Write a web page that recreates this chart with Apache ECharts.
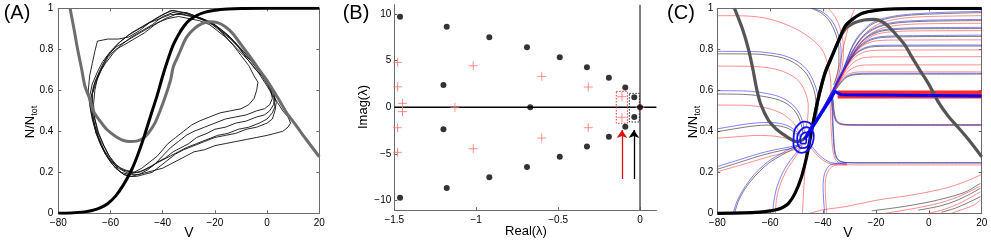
<!DOCTYPE html>
<html><head><meta charset="utf-8">
<script src="https://cdn.jsdelivr.net/npm/echarts@6/dist/echarts.min.js"></script>
<style>html,body{margin:0;padding:0;background:#fff}#c{width:991px;height:245px}</style>
</head><body><div id="c"></div><script>
// ---------------- Panel A data ----------------
const aTicksX = [-80, -60, -40, -20, 0, 20];
const aTicksY = [0, 0.2, 0.4, 0.6, 0.8, 1];
const aSigmoid = [[-80,0],[-75,0.002],[-70,0.007],[-67,0.014],[-64,0.026],[-61,0.048],[-58,0.085],[-55,0.14],[-52,0.21],[-50,0.27],[-48,0.34],[-46,0.42],[-44,0.5],[-42,0.58],[-40,0.67],[-38,0.75],[-36,0.82],[-34,0.87],[-32,0.91],[-30,0.94],[-27,0.965],[-24,0.98],[-20,0.99],[-15,0.996],[-10,0.999],[0,1],[20,1]];
const aNullcline = [[-75.5,1],[-74,0.9],[-72.6,0.8],[-71,0.7],[-69.8,0.62],[-68,0.56],[-66.6,0.5],[-64,0.45],[-61.5,0.41],[-58,0.375],[-55,0.355],[-52.5,0.35],[-50,0.352],[-47.4,0.366],[-45,0.4],[-43,0.44],[-41,0.5],[-39,0.57],[-37,0.65],[-35.9,0.716],[-34,0.77],[-32,0.83],[-30.8,0.86],[-28,0.9],[-25,0.925],[-22,0.935],[-19,0.93],[-16,0.91],[-13,0.875],[-10.4,0.83],[-6,0.755],[-3,0.7],[0,0.648],[4,0.566],[7.5,0.49],[11,0.43],[15,0.36],[20,0.276]];
const aLoop1 = [[-56,0.2],[-53,0.19],[-50,0.2],[-47,0.21],[-44,0.23],[-42,0.25],[-39,0.27],[-36,0.3],[-33,0.32],[-30,0.34],[-27,0.37],[-23,0.39],[-20,0.41],[-16,0.42],[-12,0.44],[-8,0.45],[-4,0.47],[-1,0.48],[1,0.5],[2.5,0.53],[3,0.57],[2,0.61],[0,0.65],[-2,0.68],[-4,0.72],[-7,0.76],[-10,0.8],[-13,0.84],[-16,0.88],[-19,0.91],[-22,0.93],[-25,0.95],[-29,0.96],[-33,0.97],[-37,0.97],[-41,0.95],[-45,0.93],[-49,0.9],[-53,0.87],[-57,0.83],[-60,0.79],[-63,0.74],[-65,0.69],[-67,0.63],[-68,0.57],[-67.5,0.5],[-66.5,0.44],[-65,0.38],[-63.5,0.33],[-62,0.29],[-60,0.25],[-58,0.22],[-56,0.2]];
const aLoop2 = [[-55,0.19],[-52,0.18],[-49,0.19],[-46,0.2],[-43,0.21],[-40,0.22],[-37,0.24],[-34,0.26],[-31,0.28],[-28,0.3],[-24,0.31],[-20,0.33],[-16,0.34],[-12,0.35],[-8,0.36],[-4,0.37],[0,0.38],[3,0.39],[6,0.4],[8,0.42],[9,0.44],[8,0.47],[6,0.5],[4,0.54],[2,0.58],[0,0.63],[-2,0.67],[-5,0.71],[-8,0.76],[-11,0.81],[-14,0.85],[-17,0.88],[-20,0.92],[-24,0.94],[-28,0.96],[-32,0.98],[-36,0.99],[-40,0.97],[-44,0.94],[-48,0.91],[-52,0.88],[-56,0.84],[-59,0.8],[-62,0.75],[-64,0.7],[-66,0.64],[-67,0.58],[-67,0.52],[-66,0.46],[-65,0.4],[-63,0.34],[-61,0.29],[-59,0.25],[-57,0.21],[-55,0.19]];
const aLoop3 = [[-54,0.21],[-51,0.2],[-48,0.22],[-45,0.25],[-42,0.28],[-40,0.31],[-38,0.34],[-35,0.37],[-32,0.4],[-29,0.43],[-26,0.45],[-22,0.47],[-18,0.49],[-14,0.5],[-10,0.51],[-7,0.53],[-5,0.56],[-4,0.6],[-3.5,0.64],[-5,0.67],[-7,0.72],[-10,0.77],[-13,0.82],[-16,0.86],[-19,0.89],[-22,0.92],[-26,0.94],[-30,0.95],[-34,0.96],[-38,0.95],[-42,0.93],[-46,0.9],[-50,0.87],[-54,0.84],[-58,0.81],[-61,0.77],[-63,0.72],[-65,0.66],[-66,0.6],[-66.5,0.53],[-66,0.46],[-64.5,0.39],[-62.5,0.33],[-60.5,0.28],[-58,0.24],[-56,0.22],[-54,0.21]];
const aLoop4 = [[-53,0.18],[-50,0.18],[-47,0.19],[-44,0.2],[-41,0.23],[-38,0.26],[-35,0.29],[-32,0.31],[-28,0.33],[-24,0.35],[-20,0.37],[-16,0.38],[-12,0.39],[-8,0.41],[-4,0.42],[0,0.44],[2,0.46],[3,0.5],[3.5,0.54],[2.5,0.58],[1,0.62],[-1,0.66],[-3,0.69],[-6,0.74],[-9,0.78],[-12,0.83],[-15,0.87],[-18,0.9],[-21,0.93],[-25,0.95],[-29,0.97],[-33,0.98],[-37,0.99],[-41,0.96],[-45,0.93],[-49,0.89],[-53,0.86],[-57,0.85],[-61,0.85],[-65,0.84],[-66,0.79],[-67,0.73],[-68,0.67],[-68.5,0.6],[-68,0.53],[-67,0.46],[-65.5,0.39],[-63.5,0.33],[-61,0.27],[-58,0.22],[-55,0.19],[-53,0.18]];
const aLoop5 = [[-55,0.21],[-52,0.2],[-49,0.2],[-46,0.22],[-43,0.24],[-40,0.26],[-37,0.28],[-34,0.3],[-31,0.32],[-27,0.34],[-23,0.36],[-19,0.38],[-15,0.39],[-11,0.41],[-7,0.42],[-3,0.44],[0,0.46],[2,0.49],[3,0.52],[2.5,0.56],[1,0.6],[-1,0.64],[-3,0.68],[-6,0.73],[-9,0.77],[-12,0.81],[-15,0.85],[-18,0.89],[-21,0.92],[-24,0.94],[-28,0.96],[-32,0.97],[-36,0.98],[-40,0.96],[-44,0.92],[-48,0.89],[-52,0.86],[-56,0.82],[-59,0.78],[-62,0.73],[-64.5,0.68],[-66.5,0.62],[-67.5,0.56],[-67,0.49],[-66,0.43],[-64.5,0.37],[-62.5,0.31],[-60,0.26],[-57.5,0.23],[-55,0.21]];
const aLoop6 = [[-52,0.19],[-49,0.19],[-46,0.21],[-43,0.24],[-40,0.28],[-37,0.32],[-34,0.35],[-31,0.38],[-28,0.4],[-24,0.42],[-20,0.44],[-16,0.46],[-12,0.47],[-8,0.48],[-4,0.5],[-1,0.51],[1,0.53],[2,0.56],[1.5,0.6],[0,0.64],[-2,0.68],[-4.5,0.72],[-7.5,0.77],[-10.5,0.81],[-13.5,0.85],[-16.5,0.88],[-19.5,0.91],[-23,0.94],[-27,0.96],[-31,0.98],[-35,0.97],[-39,0.95],[-43,0.92],[-47,0.88],[-51,0.85],[-55,0.82],[-58,0.8],[-61,0.76],[-63.5,0.7],[-65.5,0.64],[-67,0.58],[-67,0.51],[-66.5,0.45],[-65.5,0.39],[-64,0.34],[-62,0.29],[-59.5,0.25],[-57,0.22],[-54,0.2],[-52,0.19]];

// ---------------- Panel B data ----------------
const bTicksX = [-1.5, -1, -0.5, 0];
const bTicksY = [-10, -5, 0, 5, 10];
const bDots = [[-1.465,9.71],[-1.18,8.64],[-0.92,7.5],[-0.69,6.43],[-0.49,5.36],[-0.324,4.29],[-0.19,3.18],[-0.09,2.14],[-0.035,1.07],[0,0],[-1.2,2.39],[-0.67,0],[-1.2,-2.36],[-1.465,-9.68],[-1.18,-8.64],[-0.92,-7.5],[-0.69,-6.4],[-0.49,-5.3],[-0.324,-4.2],[-0.19,-3.14],[-0.09,-2.07],[-0.035,-1.04]];
const bPlus = [[-1.48,4.82],[-1.48,2.2],[-1.45,0.43],[-1.45,-0.46],[-1.48,-2.18],[-1.48,-4.82],[-1.13,0],[-1.018,4.46],[-1.018,-4.43],[-0.6,3.32],[-0.6,-3.29],[-0.316,2.18],[-0.316,-2.18],[-0.11,1.14],[-0.11,-1.07],[0,0]];
const bZeroH = [[-1.5,0],[0.1,0]];
const bZeroV = [[0,-11],[0,11]];
const bRedRect = [[-0.145,1.71],[-0.077,1.71],[-0.077,-1.71],[-0.145,-1.71],[-0.145,1.71]];
const bBlackRect = [[-0.065,1.5],[-0.004,1.5],[-0.004,-1.57],[-0.065,-1.57],[-0.065,1.5]];
const bRedArrow = [[-0.11,-7.68],[-0.11,-2.43]];
const bBlackArrow = [[-0.037,-7.68],[-0.037,-2.43]];

// ---------------- Panel C data ----------------
const cTicksX = [-80, -60, -40, -20, 0, 20];
const cTicksY = [0, 0.2, 0.4, 0.6, 0.8, 1];
const cSigmoid = [[-80,0],[-70,0.002],[-64,0.006],[-60,0.012],[-57,0.02],[-55.6,0.026],[-53,0.05],[-50.6,0.097],[-48.1,0.18],[-46.2,0.276],[-44.5,0.39],[-43.3,0.47],[-42,0.55],[-39.3,0.683],[-36.5,0.77],[-34.2,0.84],[-31.5,0.915],[-28.5,0.95],[-25.4,0.975],[-20,0.99],[-12.8,0.997],[0,1],[20,1]];
const cNullcline = [[-73.5,1],[-70.5,0.9],[-68.2,0.8],[-66.5,0.7],[-65,0.6],[-63.5,0.53],[-60.7,0.455],[-57.6,0.41],[-55.6,0.39],[-52,0.36],[-50,0.35],[-47.5,0.36],[-45.5,0.39],[-44,0.43],[-42,0.55],[-39.3,0.683],[-36.5,0.77],[-34.2,0.84],[-31.5,0.9],[-28,0.93],[-24.5,0.943],[-21,0.946],[-19,0.943],[-16,0.92],[-12.8,0.878],[-9,0.82],[-6.5,0.764],[-3,0.69],[-0.2,0.634],[3.5,0.545],[7,0.48],[11,0.42],[15,0.36],[20,0.276]];
const cMainBlue = [[-47,0.36],[-45.5,0.39],[-43,0.44],[-41,0.48],[-39,0.52],[-37,0.56],[-35.5,0.595],[-35,0.6],[-34.2,0.585],[-33,0.578],[-25,0.577],[-19,0.577],[-18.8,0.572],[20,0.572]];
const cRedBand = [[-34.5,0.58],[20,0.58]];
const cSpiral = [[-44,0.42],[-45,0.44],[-47,0.447],[-49.5,0.43],[-51,0.39],[-51.2,0.34],[-50,0.305],[-48,0.295],[-45.5,0.31],[-44,0.34],[-43.5,0.38],[-44.5,0.41],[-46.5,0.42],[-48.5,0.405],[-49.8,0.37],[-49.5,0.335],[-48,0.318],[-46,0.325],[-45,0.35],[-45.2,0.38],[-46.5,0.395],[-48,0.385],[-48.7,0.36],[-48,0.34],[-46.8,0.34],[-46.3,0.36],[-47,0.37]];
const cBlueLines = [
 [[20,0.985],[5,0.98],[-6.5,0.972],[-13,0.962],[-18,0.948],[-22,0.925],[-25,0.89],[-27.5,0.85],[-29.5,0.8],[-31,0.75],[-32.5,0.7],[-34,0.655],[-35.8,0.61],[-38,0.56],[-41,0.495],[-44,0.435],[-46.5,0.385]],
 [[20,0.946],[0,0.942],[-10,0.936],[-16,0.925],[-20.5,0.905],[-24,0.875],[-26.5,0.84],[-28.8,0.795],[-30.6,0.75],[-32.2,0.7],[-33.8,0.655],[-35.6,0.61],[-37.8,0.56],[-40.8,0.495],[-43.8,0.435],[-46.5,0.385]],
 [[20,0.907],[-5,0.905],[-14,0.9],[-19,0.89],[-23,0.865],[-26,0.83],[-28.5,0.785],[-30.5,0.74],[-32.2,0.695],[-34,0.65],[-35.8,0.605],[-38,0.555],[-41,0.49],[-44,0.43],[-46.5,0.385]],
 [[20,0.869],[-10,0.866],[-18,0.862],[-22,0.85],[-25.2,0.825],[-27.8,0.79],[-29.8,0.75],[-31.6,0.71],[-33.4,0.67],[-35.2,0.625],[-37.2,0.575],[-40,0.51],[-43,0.45],[-46.3,0.39]],
 [[20,0.821],[-15,0.82],[-22,0.816],[-25.5,0.8],[-28,0.775],[-30,0.745],[-31.8,0.71],[-33.5,0.675],[-35.3,0.63],[-37.3,0.58],[-40,0.515],[-43,0.45],[-46.3,0.39]],
 [[20,0.683],[-20,0.683],[-26,0.682],[-29,0.678],[-31,0.668],[-32.6,0.65],[-34.2,0.625],[-36,0.59],[-38.2,0.545],[-41,0.485],[-44,0.425],[-46.5,0.385]],
 [[20,0.431],[-25,0.431],[-31,0.432],[-33.5,0.436],[-35,0.45],[-35.8,0.48],[-36.2,0.52],[-36.5,0.56],[-37,0.58]],
 [[20,0.245],[-25,0.245],[-31,0.246],[-33.5,0.252],[-35,0.27],[-35.8,0.31],[-36.2,0.38],[-36.5,0.46],[-36.7,0.53],[-37,0.58]],
 [[-31,0.244],[-34,0.244],[-36.7,0.246],[-39,0.26],[-41.5,0.285],[-43.5,0.315],[-45.5,0.345]],
 [[-39.4,0],[-39.8,0.07],[-40,0.13],[-39.4,0.195],[-37.6,0.233],[-35,0.243],[-31,0.245]],
 [[-43.5,1],[-40,0.98],[-37,0.945],[-35,0.9],[-33.8,0.85],[-33.2,0.8],[-33.2,0.74],[-34,0.68],[-35.5,0.625]],
 [[-80,0.79],[-66,0.789],[-60,0.782],[-55,0.77],[-51,0.75],[-48,0.725],[-45.5,0.69],[-43.5,0.64],[-42.2,0.59],[-41.8,0.54],[-42.3,0.48],[-43.5,0.43],[-45.5,0.39]],
 [[-80,0.598],[-70,0.597],[-64,0.59],[-58,0.575],[-54,0.553],[-51,0.523],[-49,0.488],[-47.6,0.44],[-47,0.39]],
 [[-80,0.412],[-74,0.425],[-68,0.437],[-62,0.443],[-57,0.44],[-53,0.425],[-50.2,0.4],[-48.2,0.378]],
 [[-80,0.228],[-72,0.26],[-65,0.288],[-59,0.308],[-54,0.32],[-50.5,0.33],[-48,0.34]],
 [[-74,0],[-72.5,0.06],[-70,0.12],[-66,0.19],[-61,0.25],[-56,0.29],[-52,0.318],[-49,0.337]],
 [[-59,0],[-58.6,0.06],[-57.4,0.13],[-55.2,0.2],[-52.3,0.26],[-49.8,0.3],[-48,0.33]]
];
const cBlackLines = [
 [[20,0.979],[5,0.974],[-6.5,0.967],[-13,0.957],[-18,0.942],[-22,0.918],[-25,0.883],[-27.5,0.843],[-29.5,0.795],[-31,0.745],[-32.5,0.697],[-34,0.652],[-35.8,0.607],[-38,0.557],[-41,0.49],[-44,0.43],[-46.5,0.38]],
 [[20,0.94],[0,0.937],[-10,0.931],[-16,0.92],[-20.5,0.9],[-24,0.87],[-26.5,0.835],[-28.8,0.79],[-30.6,0.745],[-32.2,0.696],[-33.8,0.652],[-35.6,0.607],[-37.8,0.557],[-40.8,0.49],[-43.8,0.43],[-46.5,0.38]],
 [[20,0.901],[-5,0.9],[-14,0.895],[-19,0.885],[-23,0.86],[-26,0.825],[-28.5,0.78],[-30.5,0.736],[-32.2,0.692],[-34,0.647],[-35.8,0.602],[-38,0.552],[-41,0.487],[-44,0.427],[-46.5,0.38]],
 [[20,0.863],[-10,0.861],[-18,0.857],[-22,0.845],[-25.2,0.82],[-27.8,0.786],[-29.8,0.746],[-31.6,0.706],[-33.4,0.666],[-35.2,0.622],[-37.2,0.572],[-40,0.507],[-43,0.447],[-46.3,0.386]],
 [[20,0.816],[-15,0.815],[-22,0.811],[-25.5,0.796],[-28,0.771],[-30,0.741],[-31.8,0.706],[-33.5,0.671],[-35.3,0.627],[-37.3,0.577],[-40,0.512],[-43,0.447],[-46.3,0.386]],
 [[20,0.679],[-20,0.679],[-26,0.678],[-29,0.674],[-31,0.664],[-32.6,0.646],[-34.2,0.621],[-36,0.587],[-38.2,0.542],[-41,0.482],[-44,0.422],[-46.5,0.382]],
 [[20,0.432],[-25,0.432],[-31,0.433],[-33.3,0.438],[-34.8,0.452],[-35.6,0.482],[-36,0.522],[-36.3,0.562],[-36.8,0.582]],
 [[20,0.247],[-25,0.247],[-31,0.248],[-33.3,0.254],[-34.8,0.272],[-35.6,0.312],[-36,0.382],[-36.3,0.462],[-36.5,0.532],[-36.8,0.582]],
 [[-44.5,1],[-41,0.98],[-38,0.945],[-36,0.9],[-34.6,0.85],[-34,0.8],[-34,0.74],[-34.6,0.68],[-36,0.625]],
 [[-80,0.778],[-66,0.777],[-60,0.77],[-55,0.757],[-51.3,0.737],[-48.4,0.71],[-46,0.675],[-44.2,0.63],[-43,0.58],[-42.7,0.53],[-43.2,0.475],[-44.4,0.425],[-46,0.39]],
 [[-80,0.582],[-70,0.58],[-64,0.573],[-58,0.558],[-54,0.537],[-51.2,0.507],[-49.4,0.472],[-48.2,0.43],[-47.6,0.39]],
 [[-80,0.398],[-74,0.411],[-68,0.423],[-62,0.43],[-57,0.427],[-53,0.413],[-50.3,0.39],[-48.3,0.372]],
 [[-80,0.215],[-72,0.247],[-65,0.276],[-59,0.297],[-54,0.311],[-50.5,0.322],[-48,0.333]],
 [[-73.5,0],[-72,0.06],[-69.5,0.12],[-65.5,0.185],[-60.5,0.245],[-55.5,0.285],[-51.5,0.313],[-48.8,0.333]],
 [[-21.6,0.012],[-10,0.032],[0,0.055],[8,0.08],[14,0.105],[19.5,0.146]],
 [[-4,0.015],[4,0.035],[10,0.06],[15,0.09],[19.5,0.122]],
 [[4.8,0.005],[10,0.025],[14.5,0.05],[19.5,0.081]]
];
const cRedLines = [
 [[20,0.964],[0,0.96],[-9,0.953],[-15,0.94],[-19.5,0.92],[-23,0.89],[-25.8,0.85],[-28,0.805],[-30,0.755],[-31.6,0.705],[-33.2,0.66],[-35,0.615],[-37.2,0.565],[-40.2,0.5],[-43.2,0.44],[-46,0.39]],
 [[20,0.927],[-3,0.924],[-12,0.917],[-17.5,0.903],[-21.5,0.88],[-24.7,0.845],[-27.3,0.8],[-29.5,0.755],[-31.3,0.71],[-33,0.665],[-34.8,0.62],[-37,0.57],[-40,0.505],[-43,0.445],[-46,0.39]],
 [[20,0.891],[-8,0.889],[-16,0.883],[-20.5,0.87],[-24,0.842],[-26.8,0.805],[-29,0.765],[-31,0.72],[-32.8,0.68],[-34.6,0.635],[-36.7,0.585],[-39.5,0.52],[-42.6,0.455],[-45.8,0.395]],
 [[20,0.846],[-14,0.845],[-20.5,0.84],[-24,0.825],[-26.8,0.795],[-29,0.76],[-31,0.72],[-32.8,0.68],[-34.6,0.637],[-36.6,0.59],[-39.3,0.525],[-42.4,0.46],[-45.6,0.4]],
 [[20,0.797],[-18,0.796],[-23.5,0.79],[-26.8,0.772],[-29.2,0.745],[-31.2,0.71],[-33,0.675],[-34.8,0.635],[-36.8,0.587],[-39.5,0.523],[-42.5,0.458],[-45.6,0.4]],
 [[20,0.764],[-20,0.763],[-25,0.758],[-28,0.74],[-30.3,0.713],[-32.2,0.68],[-34,0.645],[-35.8,0.605],[-38,0.555],[-41,0.49],[-44,0.43],[-46.3,0.39]],
 [[20,0.724],[-22,0.724],[-26.5,0.72],[-29.3,0.705],[-31.3,0.683],[-33.1,0.655],[-34.9,0.62],[-36.9,0.58],[-39.5,0.525],[-42.5,0.46],[-45.6,0.4]],
 [[20,0.69],[-24,0.69],[-28,0.688],[-30.5,0.678],[-32.3,0.66],[-34,0.635],[-35.8,0.6],[-38,0.555],[-41,0.49],[-44,0.43],[-46.3,0.39]],
 [[20,0.428],[-25,0.428],[-31,0.429],[-33.7,0.434],[-35.2,0.45],[-36,0.48],[-36.5,0.52],[-36.8,0.56]],
 [[20,0.236],[-25,0.236],[-31,0.237],[-33.8,0.245],[-35.4,0.265],[-36.3,0.31],[-36.8,0.38],[-37.1,0.46],[-37.3,0.53],[-37.5,0.57]],
 [[-31,0.236],[-34,0.237],[-37,0.24],[-39.5,0.255],[-42,0.28],[-44,0.31],[-46,0.34]],
 [[-38.6,0],[-39,0.07],[-39.2,0.13],[-38.6,0.19],[-36.8,0.226],[-34,0.236],[-31,0.236]],
 [[-38,1],[-35.5,0.96],[-33.5,0.9],[-32.5,0.84],[-32.3,0.78],[-33,0.7],[-35,0.635]],
 [[-28,1],[-29.5,0.95],[-31,0.88],[-32.5,0.8],[-33.8,0.72],[-35.5,0.64]],
 [[-80,0.964],[-70,0.963],[-63,0.955],[-57,0.935],[-52,0.91],[-47,0.875],[-43,0.835],[-40,0.79],[-38.3,0.73],[-37.3,0.67],[-37,0.61],[-37.8,0.55],[-40.5,0.49],[-43.5,0.43],[-46,0.385]],
 [[-80,0.718],[-68,0.717],[-62,0.712],[-57,0.7],[-53,0.68],[-50,0.655],[-47.8,0.62],[-46.3,0.575],[-45.6,0.525],[-45.8,0.465],[-46.6,0.41]],
 [[-80,0.528],[-70,0.527],[-64,0.52],[-59,0.505],[-55,0.482],[-52,0.452],[-50,0.42],[-48.8,0.385]],
 [[-80,0.366],[-72,0.374],[-65,0.38],[-59,0.377],[-54,0.366],[-51,0.352],[-49,0.345]],
 [[-80,0.203],[-72,0.232],[-65,0.259],[-59,0.281],[-54,0.297],[-50.5,0.312],[-48,0.325]],
 [[-58,0],[-57.6,0.07],[-56.2,0.14],[-53.8,0.21],[-51.2,0.26],[-49.2,0.3],[-47.8,0.33]],
 [[-47.8,0],[-47.4,0.1],[-46.9,0.2],[-46.6,0.3]],
 [[-45,0],[-40,0.017],[-31.8,0.032],[-19.2,0.065],[-6.5,0.089],[6.1,0.122],[13.7,0.154],[18.7,0.182],[20,0.19]],
 [[-16.5,0],[-5,0.025],[4,0.05],[11,0.08],[16,0.11],[19.5,0.133]],
 [[0,0],[6,0.02],[11,0.045],[15.5,0.075],[19.5,0.105]],
 [[8.5,0],[13,0.02],[17,0.04],[19.5,0.065]]
];

// ---------------- chart ----------------
const FONT = 'Liberation Sans';
const AXC = '#6a6a6a';
const fmt = v => String(v).replace('-', '\u2212');
function ax(o) {
  return {
    type: 'value', gridIndex: o.g, position: o.pos, min: o.min, max: o.max,
    splitLine: { show: false },
    axisLine: { show: true, onZero: false, lineStyle: { color: AXC, width: 1 } },
    axisTick: { show: true, inside: true, length: 3, lineStyle: { color: AXC }, customValues: o.ticks },
    axisLabel: { show: !!o.label, margin: o.margin || 4, color: '#000', fontFamily: FONT, fontSize: 10,
      formatter: fmt, customValues: o.label ? o.ticks : undefined, hideOverlap: false,
      showMinLabel: true, showMaxLabel: true }
  };
}
const xAxis = [
  ax({ g: 0, pos: 'bottom', min: -80, max: 20, ticks: aTicksX, label: true, margin: 5 }),
  ax({ g: 0, pos: 'top', min: -80, max: 20, ticks: aTicksX }),
  ax({ g: 1, pos: 'bottom', min: -1.5, max: 0.1, ticks: bTicksX, label: true, margin: 5 }),
  ax({ g: 2, pos: 'bottom', min: -80, max: 20, ticks: cTicksX, label: true, margin: 5 }),
  ax({ g: 2, pos: 'top', min: -80, max: 20, ticks: cTicksX })
];
const yAxis = [
  ax({ g: 0, pos: 'left', min: 0, max: 1, ticks: aTicksY, label: true, margin: 5 }),
  ax({ g: 0, pos: 'right', min: 0, max: 1, ticks: aTicksY }),
  ax({ g: 1, pos: 'left', min: -11, max: 11, ticks: bTicksY, label: true, margin: 3 }),
  ax({ g: 2, pos: 'left', min: 0, max: 1, ticks: cTicksY, label: true, margin: 4 }),
  ax({ g: 2, pos: 'right', min: 0, max: 1, ticks: cTicksY })
];
function line(data, xi, yi, color, width, extra) {
  return Object.assign({ type: 'line', data: data, xAxisIndex: xi, yAxisIndex: yi, symbol: 'none',
    silent: true, animation: false, lineStyle: { color: color, width: width }, z: 2 }, extra || {});
}
const series = [];
// Panel A
[aLoop1, aLoop2, aLoop3, aLoop4, aLoop5, aLoop6].forEach(l =>
  series.push(line(l, 0, 0, '#111', 0.9)));
series.push(line(aNullcline, 0, 0, '#6e6e6e', 3, { smooth: 0.3 }));
series.push(line(aSigmoid, 0, 0, '#000', 3, { smooth: 0.3 }));
// Panel B
series.push(line(bZeroH, 2, 2, '#000', 1.5));
series.push(line(bZeroV, 2, 2, '#555', 1.5));
series.push(line(bRedRect, 2, 2, '#ff3030', 1, { lineStyle: { color: '#ff3030', width: 1, type: [1.5, 1.5] } }));
series.push(line(bBlackRect, 2, 2, '#222', 1, { lineStyle: { color: '#222', width: 1, type: [1.5, 1.5] } }));
[[bRedArrow, '#e01010'], [bBlackArrow, '#000']].forEach(([a, col]) => {
  series.push(line([a[0]], 2, 2, col, 0, {
    markLine: { silent: true, animation: false, symbol: ['none', 'arrow'], symbolSize: 8,
      label: { show: false }, lineStyle: { color: col, width: 1.3, type: 'solid' },
      data: [[{ coord: a[0] }, { coord: a[1] }]] }
  }));
});
series.push({ type: 'scatter', data: bPlus, xAxisIndex: 2, yAxisIndex: 2, silent: true, animation: false,
  symbol: 'path://M5,0L5,10M0,5L10,5', symbolSize: 9,
  itemStyle: { color: 'none', borderColor: '#ff7070', borderWidth: 1 }, z: 3 });
series.push({ type: 'scatter', data: bDots, xAxisIndex: 2, yAxisIndex: 2, silent: true, animation: false,
  symbol: 'circle', symbolSize: 6, itemStyle: { color: '#000' }, z: 4 });
// Panel C
cBlackLines.forEach(l => series.push(line(l, 3, 3, 'rgba(20,20,20,0.8)', 0.7, { smooth: 0.3 })));
cRedLines.forEach(l => series.push(line(l, 3, 3, 'rgba(255,50,50,0.8)', 0.7, { smooth: 0.3 })));
cBlueLines.forEach(l => series.push(line(l, 3, 3, 'rgba(30,30,240,0.8)', 0.7, { smooth: 0.3 })));
series.push(line(cRedBand, 3, 3, '#ff2a2a', 8, { z: 3 }));
series.push(line(cNullcline, 3, 3, '#555', 3.2, { smooth: 0.3, z: 4 }));
series.push(line(cSigmoid, 3, 3, '#000', 3.2, { smooth: 0.3, z: 4 }));
series.push(line(cMainBlue, 3, 3, '#0000ff', 3, { z: 5 }));
series.push(line(cSpiral, 3, 3, '#1010ff', 1.8, { smooth: 0.5, z: 5 }));

const txt = (x, y, text, size, extra) => Object.assign({ type: 'text', x: x, y: y, silent: true,
  style: { text: text, font: size + 'px ' + FONT, fill: '#000', align: 'center', verticalAlign: 'middle' } }, extra || {});
const ylab = (x, y) => ({ type: 'text', x: x, y: y, rotation: Math.PI / 2, silent: true,
  style: { text: '{n|N/N}{s|tot}', align: 'center', verticalAlign: 'middle', fill: '#000',
    rich: { n: { fontFamily: FONT, fontSize: 13, lineHeight: 18 },
            s: { fontFamily: FONT, fontSize: 9, lineHeight: 9, verticalAlign: 'bottom' } } } });

const chart = echarts.init(document.getElementById('c'), null, { renderer: 'canvas' });
chart.setOption({
  animation: false,
  grid: [
    { left: 58.3, top: 8.3, width: 261, height: 205 },
    { left: 394.3, top: 4.7, width: 262.1, height: 205.3 },
    { left: 717.3, top: 8.3, width: 264.4, height: 205 }
  ],
  xAxis: xAxis, yAxis: yAxis, series: series,
  graphic: [
    txt(17, 13, '(A)', 20), txt(356, 13, '(B)', 20), txt(681, 13, '(C)', 20),
    txt(189, 233, 'V', 14), txt(526, 231, 'Real(\u03bb)', 13), txt(848, 233, 'V', 14),
    ylab(30, 122), ylab(693, 122),
    { type: 'text', x: 363, y: 107, rotation: Math.PI / 2, silent: true,
      style: { text: 'Imag(\u03bb)', font: '13px ' + FONT, fill: '#000', align: 'center', verticalAlign: 'middle' } }
  ]
});
</script></body></html>
